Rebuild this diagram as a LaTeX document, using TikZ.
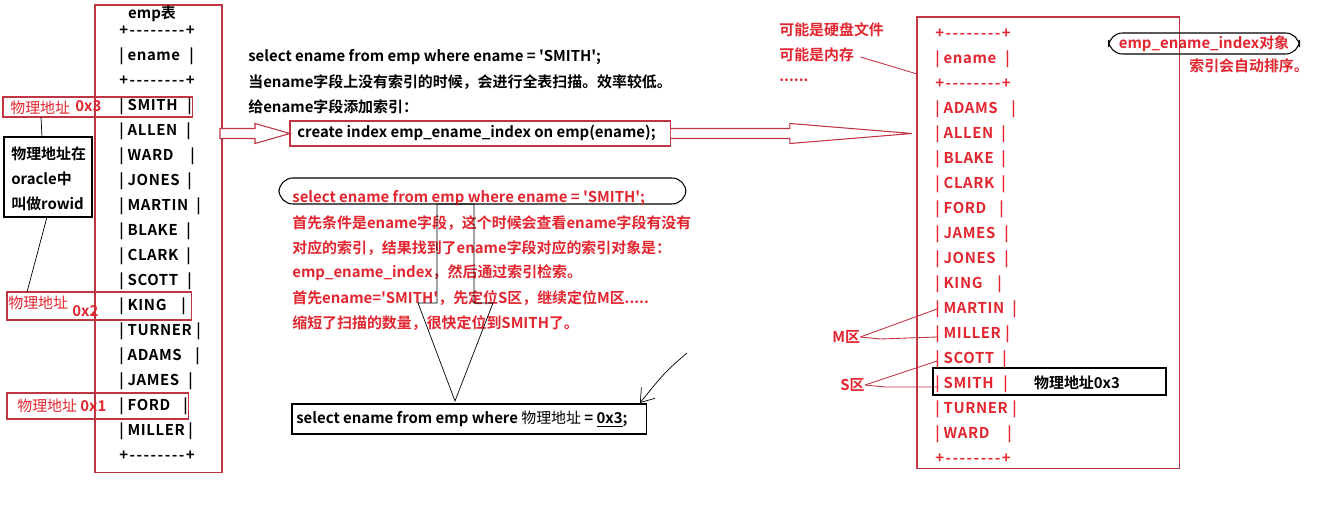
\documentclass[tikz,border=0pt]{standalone}
\usepackage{fontspec}
\setmainfont{Noto Sans CJK SC}[Ligatures=TeXOff,BoldFont={* Bold}]
\usepackage{tikz}
\usetikzlibrary{calc,arrows.meta}
\definecolor{textred}{RGB}{226,38,48}
\definecolor{boxred}{RGB}{192,52,68}
\tikzstyle{frame}=[draw=boxred,line width=0.6pt,inner sep=0pt,outer sep=0pt,anchor=north west]
\tikzstyle{bframe}=[draw=black,line width=0.6pt,inner sep=0pt,outer sep=0pt,anchor=north west]
\tikzstyle{row}=[anchor=west,inner sep=0pt,font=\fontsize{8.5}{10}\selectfont\bfseries]
\tikzstyle{rrow}=[row,text=textred]
\tikzstyle{plain}=[anchor=west,inner sep=0pt,font=\fontsize{8.5}{10}\selectfont]
\tikzstyle{hollow}=[draw=boxred,line width=0.6pt,fill=white]
\tikzstyle{link}=[draw=boxred,line width=0.5pt]
\tikzstyle{ring}=[draw=black,line width=0.6pt,rounded corners=8pt,inner sep=0pt,outer sep=0pt]
\newcommand\dashrow{{\addfontfeatures{LetterSpace=10}+--------+}}
\newcommand\colname[1]{|\hspace{2.2pt}{\addfontfeatures{LetterSpace=4}#1}}

\begin{document}
\begin{tikzpicture}[x=0.02cm,y=-0.02cm]
\useasboundingbox (0,0) rectangle (1337,526);
% emp table
\node[frame,minimum width=2.54cm,minimum height=9.36cm] (emp) at (95,5) {};
\node[row,anchor=center] (emptitle) at (152,14) {emp表};
\node[row] (l0) at (119,31) {\dashrow};
\node[row] (l2) at (119,81) {\dashrow};
\node[row] (l17) at (119,456) {\dashrow};
\foreach \ypos/\name/\txt/\barx in {56/l1/ename/189, 106/l3/SMITH/187, 131/l4/ALLEN/186,
    156/l5/WARD/190, 181/l6/JONES/187, 206/l7/MARTIN/196, 231/l8/BLAKE/186,
    256/l9/CLARK/186, 281/l10/SCOTT/187, 306/l11/KING/181, 331/l12/TURNER/196,
    356/l13/ADAMS/195, 381/l14/JAMES/188, 406/l15/FORD/183, 431/l16/MILLER/188}{
  \node[row] (\name) at (119,\ypos) {\colname{\txt}};
  \node[row] (\name-bar) at (\barx,\ypos) {|};
}

% physical addresses
\node[frame,minimum width=3.8cm,minimum height=0.4cm] (addr3) at (3,97) {};
\node[plain,text=textred] (addr3t) at (10,108) {物理地址};
\node[rrow] (addr3n) at (75,106) {0x3};
\node[frame,minimum width=3.7cm,minimum height=0.56cm] (addr2) at (7,292) {};
\node[plain,text=textred] (addr2t) at (8,303) {物理地址};
\node[rrow] (addr2n) at (72,311) {0x2};
\node[frame,minimum width=3.64cm,minimum height=0.52cm] (addr1) at (7,393) {};
\node[plain,text=textred] (addr1t) at (17,406) {物理地址 \textbf{0x1}};
\node[bframe,minimum width=1.76cm,minimum height=1.6cm] (rowid) at (4,137) {};
\node[row] (rowid1) at (11,154) {物理地址在};
\node[row] (rowid2) at (11,179) {oracle中};
\node[row] (rowid3) at (11,204) {叫做rowid};
\draw ($(addr3.south west)+(38,0)$) -- ($(rowid.north west)+(38,0)$);
\draw ($(rowid.south west)+(43,0)$) -- ($(addr2.north west)+(20,0)$);

% full scan and create index
\node[row] (q1) at (248,57) {select ename from emp where ename = 'SMITH';};
\node[row] (q2) at (248,82) {当ename字段上没有索引的时候，会进行全表扫描。效率较低。};
\node[row] (q3) at (248,107) {给ename字段添加索引：};
\node[frame,minimum width=7.62cm,minimum height=0.5cm] (create) at (290,121) {};
\node[row] (createt) at (297,133) {create index emp\_ename\_index on emp(ename);};
\draw[hollow] (create.west) -- +(-35,-10) -- +(-35,-5) -- +(-70,-5) -- +(-70,5)
  -- +(-35,5) -- +(-35,10) -- cycle;
\draw[hollow] (create.east) ++(0,-5) -- ++(119,0) -- ++(0,-5) -- ++(122,10)
  -- ++(-122,10) -- ++(0,-5) -- ++(-119,0);

% search through the index
\node[ring,minimum width=8.14cm,minimum height=0.52cm,anchor=north west] (ring) at (279,178) {};
\foreach \ypos/\name/\txt in {198/s1/{select ename from emp where ename = 'SMITH';},
    223/s2/{首先条件是ename字段，这个时候会查看ename字段有没有},
    248/s3/{对应的索引，结果找到了ename字段对应的索引对象是：},
    273/s4/{emp\_ename\_index，然后通过索引检索。},
    298/s5/{首先ename='SMITH'，先定位S区，继续定位M区.....},
    323/s6/{缩短了扫描的数量，很快定位到SMITH了。}}
  \node[rrow] (\name) at (292,\ypos) {\txt};
\node[bframe,minimum width=7.1cm,minimum height=0.6cm] (qbox) at (292,404) {};
\node[row] (qboxt) at (296,419) {select ename from emp where {\mdseries 物理地址} = \underline{0x3};};
\coordinate (tip) at ($(qbox.north west)+(163,-3)$);
\draw (tip) -- +(-37,-98) -- +(-18,-98) -- +(-18,-197) -- +(19,-197) -- +(19,-98)
  -- +(38,-98) -- cycle;
\coordinate (pen) at (687,353);
\draw[-{Straight Barb[length=2.5mm,width=3.5mm]}] (pen) .. controls (665,372) .. ($(qbox.north east)+(-7,-1)$);

% index object
\node[rrow] (disk) at (779,30) {可能是硬盘文件};
\node[rrow] (mem) at (779,55) {可能是内存};
\node[rrow] (etc) at (779,80) {......};
\node[frame,minimum width=5.26cm,minimum height=9.04cm] (idx) at (917,17) {};
\draw[link] ($(mem.east)+(6,2)$) -- ($(idx.north west)+(0,57)$);
\node[rrow] (r0) at (935,34) {\dashrow};
\node[rrow] (r2) at (935,84) {\dashrow};
\node[rrow] (r17) at (935,459) {\dashrow};
\foreach \ypos/\name/\txt/\barx in {59/r1/ename/1005, 109/r3/ADAMS/1011, 134/r4/ALLEN/1001,
    159/r5/BLAKE/1001, 184/r6/CLARK/1001, 209/r7/FORD/999, 234/r8/JAMES/1004,
    259/r9/JONES/1004, 284/r10/KING/997, 309/r11/MARTIN/1012, 334/r12/MILLER/1005,
    359/r13/SCOTT/1002, 384/r14/SMITH/1003, 409/r15/TURNER/1012, 434/r16/WARD/1007}{
  \node[rrow] (\name) at (935,\ypos) {\colname{\txt}};
  \node[rrow] (\name-bar) at (\barx,\ypos) {|};
}
\node[ring,rrow,anchor=center,minimum width=3.82cm,minimum height=0.42cm] (obj) at (1204,43.5) {emp\_ename\_index对象};
\node[rrow] (sorted) at (1189,66) {索引会自动排序。};
\node[rrow] (mzone) at (832,337) {M区};
\draw[link] (mzone.east) -- ($(r11.west)+(2,0)$);
\draw[link] (mzone.east) -- ++(20,2) -- ($(r12.west)+(2,3)$);
\node[rrow] (szone) at (840,385) {S区};
\draw[link] (szone.east) -- ($(r13.west)+(2,2)$);
\draw[link] (szone.east) -- ++(20,2) -- ($(r14.west)+(2,3)$);
\node[bframe,minimum width=4.66cm,minimum height=0.54cm] (smithbox) at (933,368) {};
\node[row,anchor=center] (smitht) at (1077,383) {物理地址0x3};
\end{tikzpicture}
\end{document}
